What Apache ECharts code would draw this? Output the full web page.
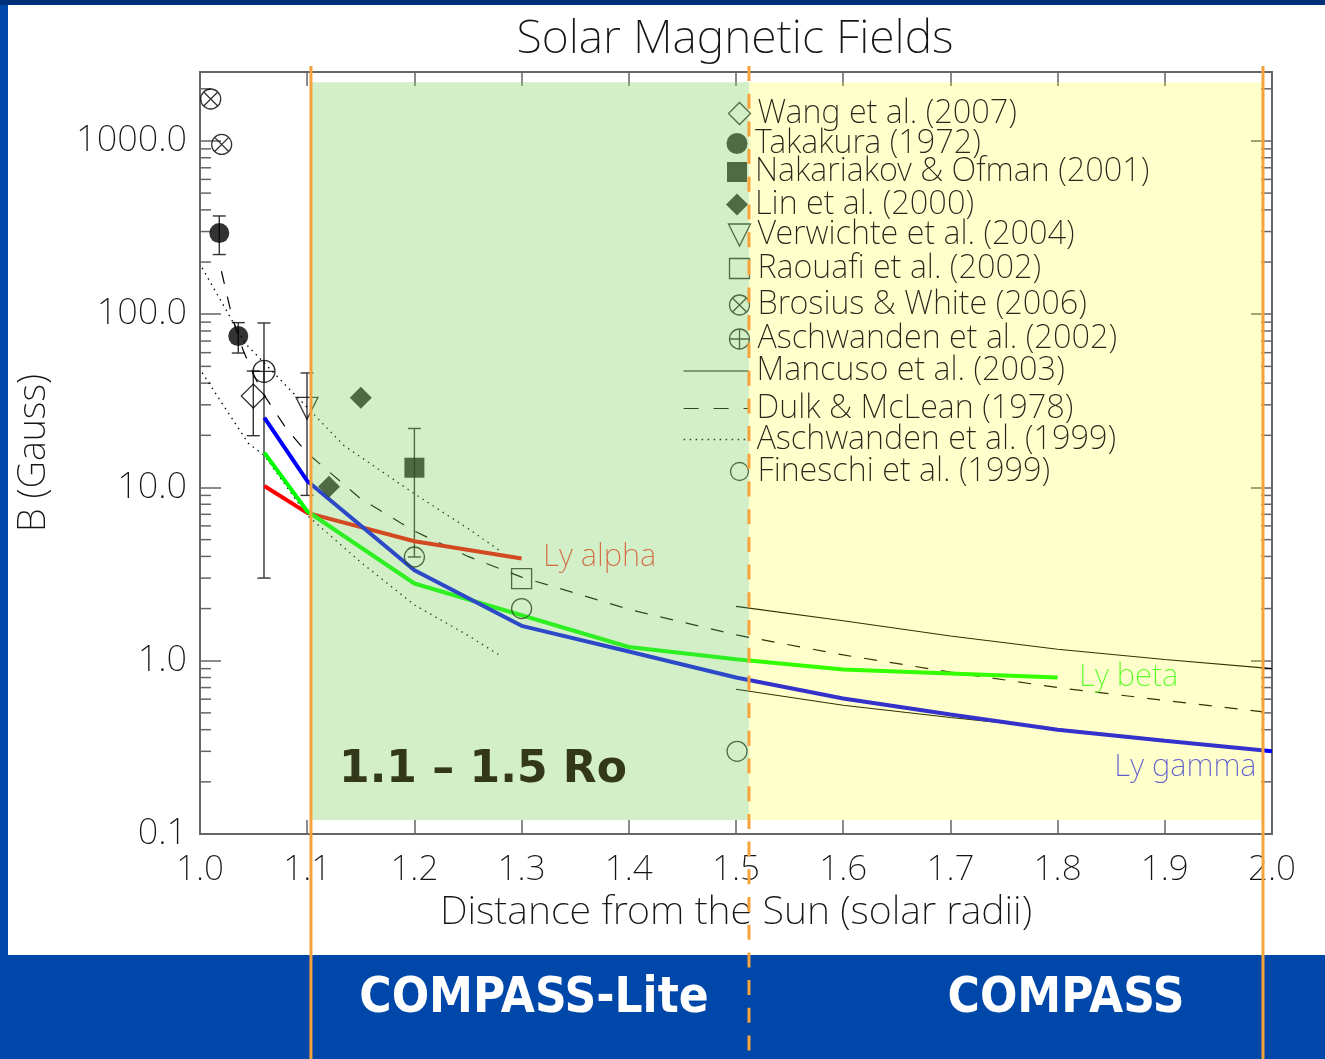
<!DOCTYPE html>
<html>
<head>
<meta charset="utf-8">
<script src="https://cdn.jsdelivr.net/npm/echarts@6/dist/echarts.min.js"></script>
<style>
html,body{margin:0;padding:0;background:#0047aa;}
#c{width:1325px;height:1059px;}
</style>
</head>
<body>
<div id="c"></div>
<script>
// ================= DATA =================
const yTickLabels = ['0.1', '1.0', '10.0', '100.0', '1000.0'];
const yMinorTicks = [0.2,0.3,0.4,0.5,0.6,0.7,0.8,0.9, 2,3,4,5,6,7,8,9,
                     20,30,40,50,60,70,80,90, 200,300,400,500,600,700,800,900, 2000];

const lyAlpha = [[1.06,10.2],[1.1,7.13],[1.2,4.89],[1.3,3.89]];
const lyBeta  = [[1.06,15.9],[1.1,7.29],[1.2,2.79],[1.3,1.83],[1.4,1.20],[1.5,1.02],[1.6,0.89],[1.7,0.845],[1.8,0.80]];
const lyGamma = [[1.06,25.3],[1.1,10.9],[1.2,3.33],[1.3,1.59],[1.4,1.13],[1.5,0.80],[1.6,0.605],[1.7,0.49],[1.8,0.40],[1.9,0.345],[2.0,0.30]];

const mancusoUpper = [[1.5,2.06],[1.6,1.70],[1.7,1.39],[1.8,1.165],[1.9,1.016],[2.0,0.90]];
const mancusoLower = [[1.5,0.685],[1.6,0.553],[1.7,0.47],[1.765,0.428],[1.8,0.405],[1.9,0.348],[2.0,0.302]];
const dulkMcLean = [[1.02,177],[1.03,96],[1.04,62.5],[1.05,44.7],[1.06,34],[1.08,22.1],[1.1,15.8],[1.15,8.6],
                    [1.2,5.6],[1.25,4.0],[1.3,3.04],[1.4,1.98],[1.5,1.41],[1.6,1.08],[1.7,0.86],[1.8,0.70],[1.9,0.59],[2.0,0.50]];
const aschwanden1999Upper = [[1.002,185],[1.02,118],[1.042,68],[1.053,58],[1.078,40],[1.1,29],[1.134,17.5],[1.2,9.2],[1.25,5.8],[1.28,4.3]];
const aschwanden1999Lower = [[1.002,46],[1.02,31],[1.045,18],[1.06,15.3],[1.1,6.9],[1.15,3.7],[1.2,2.1],[1.25,1.4],[1.28,1.07]];

const wang2007        = [[1.0497,33.7]];
const takakura1972    = [[1.018,294],[1.0357,74.8]];
const nakariakov2001  = [[1.2,13.0]];
const lin2000         = [[1.15,33.0],[1.1203,10.1]];
const verwichte2004   = [[1.0998,28.6]];
const raouafi2002     = [[1.3,2.98]];
const brosius2006     = [[1.010,1746],[1.0202,955]];
const aschwanden2002  = [[1.0597,46.8]];
const fineschi1999    = [[1.2,3.97],[1.3,2.0],[1.501,0.30]];

// [x, low, high]
const errorBars = [[1.018,221,369],[1.0357,59.7,89.4],[1.0497,19.9,47],[1.0597,3.0,89],[1.0998,9.0,45.8],[1.2,3.97,21.9]];

const lyLabelTexts  = ['Ly alpha','Ly beta','Ly gamma'];
const lyLabelPoints = [[1.3,3.89],[1.8,0.80],[2.0,0.30]];

// shaded ranges [x0, x1, y0, y1]
const regionLite    = [[1.104, 1.512, 0.1205, 2185]];
const regionCompass = [[1.512, 1.9916, 0.1205, 2185]];
const boundarySolid  = [[1.1035],[1.9916]];
const boundaryDashed = [[1.5121]];

const legendNames = ['Wang et al. (2007)','Takakura (1972)','Nakariakov & Ofman (2001)','Lin et al. (2000)',
  'Verwichte et al. (2004)','Raouafi et al. (2002)','Brosius & White (2006)','Aschwanden et al. (2002)',
  'Mancuso et al. (2003)','Dulk & McLean (1978)','Aschwanden et al. (1999)','Fineschi et al. (1999)'];

// ================= STYLE / LAYOUT =================
const THIN = "'Noto Sans', 'DejaVu Sans', sans-serif";
const FW = 200;
const TXT = '#151515';
const LEG_TXT = '#26261a';
const LEG_ICON = '#2e4a22';
const ORANGE = '#f7a33b';
const P_DIAMOND = 'path://M10,0 L20,10 L10,20 L0,10 Z';
const P_SQUARE = 'path://M0,0 L20,0 L20,20 L0,20 Z';
const P_TRI_DOWN = 'path://M0,0 L20,0 L10,20 Z';
const P_CIRCLE = 'path://M0,10 A10,10 0 1,0 20,10 A10,10 0 1,0 0,10 Z';
const P_CIRCLE_X = 'path://M0,10 A10,10 0 1,0 20,10 A10,10 0 1,0 0,10 Z M2.93,2.93 L17.07,17.07 M17.07,2.93 L2.93,17.07';
const P_CIRCLE_P = 'path://M0,10 A10,10 0 1,0 20,10 A10,10 0 1,0 0,10 Z M0,10 L20,10 M10,0 L10,20';
const hollow = {color:'none', borderColor:'#000', borderWidth:1.3};
const filled = {color:'#000', borderWidth:0};
const legHollow = {color:'none', borderColor:LEG_ICON, borderWidth:1.3};
const legFilled = {color:LEG_ICON, borderWidth:0};
const legNoSymbol = {color:'rgba(0,0,0,0)', borderColor:'rgba(0,0,0,0)', borderWidth:0, opacity:0};

// legend rows: [icon, iconSize, isLine, yCenter]
const legendLayout = [
  [P_DIAMOND,22,false,108],['circle',21,false,137.5],['rect',20,false,165.5],['diamond',22,false,199],
  [P_TRI_DOWN,22,false,229.5],[P_SQUARE,20,false,262],[P_CIRCLE_X,20,false,298.5],[P_CIRCLE_P,20,false,332.5],
  [null,24,true,366.5],[null,24,true,404],[null,24,true,435],[P_CIRCLE,18,false,464]
];
const legendLineStyles = {
  'Mancuso et al. (2003)': {color:LEG_ICON, width:1.1, type:'solid'},
  'Dulk & McLean (1978)': {color:LEG_ICON, width:1.2, type:[15,15]},
  'Aschwanden et al. (1999)': {color:LEG_ICON, width:1.3, type:[1.5,4.5]}
};
const legendItemStyles = [legHollow, legFilled, legFilled, legFilled, legHollow, legHollow, legHollow, legHollow,
                          legNoSymbol, legNoSymbol, legNoSymbol, legHollow];

function yLabel(v) {
  const l = Math.log10(v), k = Math.round(l);
  if (Math.abs(l - k) > 1e-6) return '';
  const idx = k + 1;
  return yTickLabels[idx] !== undefined ? yTickLabels[idx] : '';
}

const legends = legendNames.map((name, i) => {
  const [icon, size, isLine, yc] = legendLayout[i];
  const item = {name: name, itemStyle: legendItemStyles[i]};
  if (isLine) item.lineStyle = legendLineStyles[name];
  else item.icon = icon;
  return {
    data: [item], orient: 'vertical', selectedMode: false, padding: 0, z: 15,
    left: isLine ? 683 : 737 - size / 2, top: yc - size / 2,
    itemWidth: isLine ? 65 : size, itemHeight: size,
    itemGap: 0,
    textStyle: {fontFamily: THIN, fontWeight: FW, fontSize: 32.5, color: LEG_TXT, lineHeight: size,
                padding: [0, 0, 0, isLine ? 3 : (755 - (737 + size / 2) - 5)]}
  };
});

const axisCommon = {
  axisLine: {show: true, onZero: false, lineStyle: {color: '#666', width: 2}},
  splitLine: {show: false}
};

function lineSeries(name, data, color, width, type) {
  return {name, type: 'line', data, symbol: 'none', smooth: false, silent: true, z: 2,
          lineStyle: {color, width, type: type || 'solid', cap: 'butt'}, itemStyle: {color}};
}
function scatterSeries(name, data, symbol, size, style) {
  return {name, type: 'scatter', data, symbol, symbolSize: size, symbolKeepAspect: true,
          silent: true, z: 3, itemStyle: style};
}
function regionRender(fill) {
  return function (params, api) {
    const a = api.coord([api.value(0), api.value(3)]);
    const b = api.coord([api.value(1), api.value(2)]);
    return {type: 'rect', shape: {x: a[0], y: a[1], width: b[0] - a[0], height: b[1] - a[1]}, style: {fill}};
  };
}
function boundaryRender(dash) {
  return function (params, api) {
    const x = api.coord([api.value(0), 1])[0];
    return {type: 'line', shape: {x1: x, y1: 66, x2: x, y2: 1059},
            style: {stroke: ORANGE, lineWidth: 3, lineDash: dash}};
  };
}

const option = {
  animation: false,
  backgroundColor: '#0047aa',
  graphic: {elements: [
    {type: 'rect', z: -100, shape: {x: 8, y: 5, width: 1317, height: 950}, style: {fill: '#ffffff'}},
    {type: 'rect', z: -100, shape: {x: 0, y: 0, width: 1325, height: 5}, style: {fill: '#00307a'}},
    {type: 'text', z: 100, x: 735, y: 40, style: {text: 'Solar Magnetic Fields', fontFamily: THIN, fontWeight: FW,
      fontSize: 46.5, fill: TXT, align: 'center', verticalAlign: 'middle'}},
    {type: 'text', z: 100, x: 483, y: 771, style: {text: '1.1 \u2013 1.5 Ro', fontFamily: "'DejaVu Sans', sans-serif",
      fontWeight: 'bold', fontSize: 44, fill: '#33381a', align: 'center', verticalAlign: 'middle'}},
    {type: 'text', z: 100, x: 534, y: 999, style: {text: 'COMPASS-Lite', fontFamily: "'DejaVu Sans Condensed', 'Liberation Sans', sans-serif",
      fontWeight: 'bold', fontSize: 49, fill: '#ffffff', align: 'center', verticalAlign: 'middle'}},
    {type: 'text', z: 100, x: 1066, y: 999, style: {text: 'COMPASS', fontFamily: "'DejaVu Sans Condensed', 'Liberation Sans', sans-serif",
      fontWeight: 'bold', fontSize: 49, fill: '#ffffff', align: 'center', verticalAlign: 'middle'}}
  ]},
  grid: {left: 200, right: 53, top: 72, bottom: 225, containLabel: false, outerBoundsMode: 'none'},
  legend: legends,
  xAxis: [
    Object.assign({}, axisCommon, {
      type: 'value', min: 1.0, max: 2.0, interval: 0.1, position: 'bottom',
      axisTick: {show: true, inside: true, length: 14, lineStyle: {color: '#666', width: 1.5}},
      axisLabel: {margin: 19, formatter: v => v.toFixed(1), fontFamily: THIN, fontWeight: FW, fontSize: 35, color: TXT},
      name: 'Distance from the Sun (solar radii)', nameLocation: 'middle', nameGap: 58,
      nameTextStyle: {fontFamily: THIN, fontWeight: FW, fontSize: 39.5, color: TXT, verticalAlign: 'top'}
    }),
    Object.assign({}, axisCommon, {
      type: 'value', min: 1.0, max: 2.0, interval: 0.1, position: 'top',
      axisTick: {show: true, inside: true, length: 14, lineStyle: {color: '#666', width: 1.5}},
      axisLabel: {show: false}
    })
  ],
  yAxis: [
    Object.assign({}, axisCommon, {
      type: 'log', logBase: 10, min: 0.1, max: 2500, position: 'left',
      axisTick: {show: true, inside: true, length: 21, lineStyle: {color: '#666', width: 1.5}},
      axisLabel: {margin: 13, formatter: yLabel, fontFamily: THIN, fontWeight: FW, fontSize: 36, color: TXT},
      name: 'B (Gauss)', nameLocation: 'middle', nameGap: 147,
      nameTextStyle: {fontFamily: THIN, fontWeight: FW, fontSize: 38, color: TXT}
    }),
    Object.assign({}, axisCommon, {
      type: 'log', logBase: 10, min: 0.1, max: 2500, position: 'right',
      axisTick: {show: true, inside: true, length: 21, lineStyle: {color: '#666', width: 1.5}},
      axisLabel: {show: false}
    })
  ],
  series: [
    {type: 'custom', name: 'yMinor', silent: true, z: 1, data: yMinorTicks.map(v => [v]), encode: {y: 0},
     renderItem: function (params, api) {
       const v = api.value(0);
       const l = api.coord([1.0, v]), r = api.coord([2.0, v]);
       const st = {stroke: '#666', lineWidth: 1.5};
       return {type: 'group', children: [
         {type: 'line', shape: {x1: l[0], y1: l[1], x2: l[0] + 11, y2: l[1]}, style: st},
         {type: 'line', shape: {x1: r[0] - 11, y1: r[1], x2: r[0], y2: r[1]}, style: st}
       ]};
     }},
    {type: 'custom', name: 'errorBars', silent: true, z: 2, data: errorBars, encode: {x: 0, y: [1, 2]},
     renderItem: function (params, api) {
       const x = api.value(0);
       const lo = api.coord([x, api.value(1)]), hi = api.coord([x, api.value(2)]);
       const st = {stroke: '#333', lineWidth: 1.4};
       const w = 6.5;
       return {type: 'group', children: [
         {type: 'line', shape: {x1: lo[0], y1: lo[1], x2: hi[0], y2: hi[1]}, style: st},
         {type: 'line', shape: {x1: lo[0] - w, y1: lo[1], x2: lo[0] + w, y2: lo[1]}, style: st},
         {type: 'line', shape: {x1: hi[0] - w, y1: hi[1], x2: hi[0] + w, y2: hi[1]}, style: st}
       ]};
     }},
    lineSeries('Mancuso et al. (2003)', mancusoUpper, '#000', 1.1),
    lineSeries('Mancuso et al. (2003)', mancusoLower, '#000', 1.1),
    lineSeries('Dulk & McLean (1978)', dulkMcLean, '#000', 1.2, [13, 13]),
    lineSeries('Aschwanden et al. (1999)', aschwanden1999Upper, '#000', 1.3, [1.5, 4.5]),
    lineSeries('Aschwanden et al. (1999)', aschwanden1999Lower, '#000', 1.3, [1.5, 4.5]),
    lineSeries('Ly alpha', lyAlpha, '#ff0000', 4),
    lineSeries('Ly beta', lyBeta, '#00ff00', 4),
    lineSeries('Ly gamma', lyGamma, '#0000ff', 4),
    scatterSeries('Wang et al. (2007)', wang2007, P_DIAMOND, 24, hollow),
    scatterSeries('Takakura (1972)', takakura1972, 'circle', 20, filled),
    scatterSeries('Nakariakov & Ofman (2001)', nakariakov2001, 'rect', 20, filled),
    scatterSeries('Lin et al. (2000)', lin2000, 'diamond', 22, filled),
    scatterSeries('Verwichte et al. (2004)', verwichte2004, P_TRI_DOWN, 22, hollow),
    scatterSeries('Raouafi et al. (2002)', raouafi2002, P_SQUARE, 20, hollow),
    scatterSeries('Brosius & White (2006)', brosius2006, P_CIRCLE_X, 20, hollow),
    scatterSeries('Aschwanden et al. (2002)', aschwanden2002, P_CIRCLE_P, 22, hollow),
    scatterSeries('Fineschi et al. (1999)', fineschi1999, P_CIRCLE, 20, hollow),
    {type: 'scatter', name: 'lyLabels', silent: true, z: 3, symbolSize: 1, itemStyle: {color: 'rgba(0,0,0,0)'},
     data: lyLabelPoints.map((p, i) => ({
       value: p, name: lyLabelTexts[i],
       label: [
         {show: true, position: 'right', distance: 21, offset: [0, -1], color: '#ff0000'},
         {show: true, position: 'right', distance: 21, offset: [0, 0], color: '#00ff00'},
         {show: true, position: 'left', distance: 15, offset: [0, 16], color: '#0000ff'}
       ][i]
     })),
     label: {formatter: '{b}', fontFamily: THIN, fontWeight: FW, fontSize: 31, color: '#000'}},
    {type: 'custom', name: 'regionLite', silent: true, z: 10, data: regionLite, encode: {x: [0, 1], y: [2, 3]},
     renderItem: regionRender('rgba(130,210,96,0.35)')},
    {type: 'custom', name: 'regionCompass', silent: true, z: 10, data: regionCompass, encode: {x: [0, 1], y: [2, 3]},
     renderItem: regionRender('rgba(255,255,0,0.2)')},
    {type: 'custom', name: 'boundarySolid', silent: true, z: 20, clip: false, data: boundarySolid, encode: {x: 0},
     renderItem: boundaryRender(null)},
    {type: 'custom', name: 'boundaryDashed', silent: true, z: 20, clip: false, data: boundaryDashed, encode: {x: 0},
     renderItem: boundaryRender([15, 12.7])}
  ]
};

const chart = echarts.init(document.getElementById('c'), null, {renderer: 'canvas'});
chart.setOption(option);
</script>
</body>
</html>
